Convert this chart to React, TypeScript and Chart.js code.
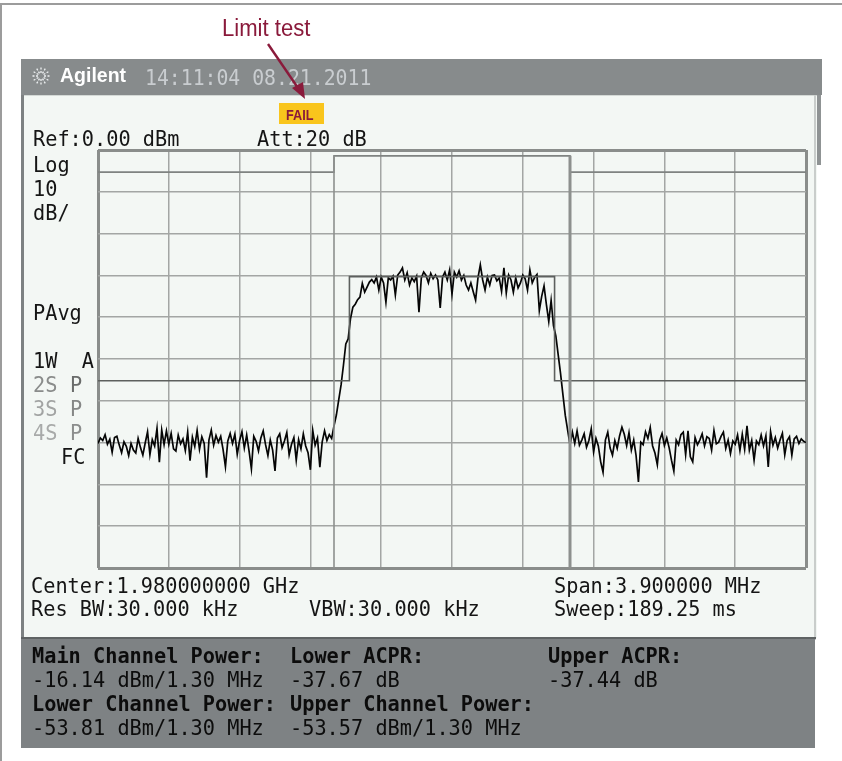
import React, { useEffect, useRef } from "react";
import { Chart, registerables } from "chart.js";
Chart.register(...registerables);

// Sweep definition (offset from 1.980 GHz centre, MHz)
const SPAN_START_MHZ = -1.95;
const SPAN_STOP_MHZ = 1.95;
const SWEEP_STEP_MHZ = 0.013;

const xGridMHz = [-1.95, -1.56, -1.17, -0.78, -0.39, 0, 0.39, 0.78, 1.17, 1.56, 1.95];
const yGridDbm = [0, -10, -20, -30, -40, -50, -60, -70, -80, -90, -100];

const traceDbm = [
  -70.2, -68.9, -69.5, -68.1, -70.4, -69.2, -72.3, -68.8, -68.5, -70.6,
  -72.4, -69.8, -70.9, -73.1, -70.2, -71.8, -72.5, -69.0, -71.2, -73.0,
  -70.1, -67.4, -72.9, -69.3, -70.8, -66.6, -74.7, -67.0, -70.5, -67.2,
  -70.4, -67.8, -71.5, -72.0, -68.2, -70.3, -69.1, -71.9, -67.5, -74.3,
  -68.7, -70.9, -67.1, -71.6, -68.6, -70.2, -78.4, -69.4, -67.0, -70.6,
  -68.3, -69.9, -68.5, -71.7, -75.8, -69.6, -67.8, -70.2, -68.0, -72.8,
  -69.5, -67.4, -71.3, -68.2, -72.0, -76.3, -68.5, -69.7, -72.0, -68.9,
  -67.2, -70.5, -73.1, -69.4, -71.8, -76.8, -68.9, -67.9, -71.2, -69.6,
  -67.6, -72.9, -70.4, -68.8, -74.2, -69.3, -71.5, -67.9, -70.8, -72.4,
  -76.5, -67.1, -70.6, -68.9, -75.9, -69.8, -67.2, -69.5, -68.1, -69.0,
  -66.0, -63.4, -59.8, -56.2, -51.5, -46.4, -45.2, -40.3, -37.6, -36.9,
  -35.8, -35.2, -31.9, -34.0, -32.8, -31.6, -31.0, -31.8, -30.4, -33.5,
  -30.4, -31.8, -36.4, -30.6, -31.1, -30.2, -34.7, -29.9, -29.2, -28.2,
  -31.1, -29.4, -32.3, -30.6, -31.5, -30.2, -38.8, -30.6, -29.2, -30.0,
  -31.8, -29.5, -30.8, -29.9, -31.1, -37.8, -30.4, -29.2, -31.1, -28.7,
  -34.5, -29.2, -30.4, -28.9, -31.1, -30.0, -32.3, -33.5, -31.8, -33.9,
  -35.9, -30.6, -27.5, -31.1, -33.5, -30.4, -32.3, -30.0, -29.9, -31.3,
  -30.6, -33.8, -28.2, -34.2, -29.9, -31.1, -34.0, -30.6, -33.0, -31.8,
  -29.9, -30.8, -33.5, -28.7, -31.8, -30.5, -29.8, -38.4, -35.0, -32.5,
  -37.0, -41.0, -36.0, -42.0, -44.5, -49.0, -53.5, -58.5, -63.5, -67.0,
  -70.5, -67.5, -70.2, -67.2, -70.6, -69.4, -67.9, -71.1, -69.5, -66.7,
  -72.2, -69.0, -70.8, -74.6, -77.1, -69.4, -67.5, -71.3, -73.0, -69.5,
  -71.4, -68.4, -66.3, -68.0, -70.7, -67.6, -71.8, -69.4, -73.1, -79.4,
  -69.9, -70.5, -67.4, -69.0, -66.4, -70.8, -72.5, -75.3, -69.4, -67.8,
  -70.7, -68.9, -71.2, -74.2, -76.8, -69.4, -70.5, -68.1, -67.5, -72.9,
  -67.2, -73.4, -74.6, -68.8, -70.5, -69.4, -67.9, -70.8, -68.6, -69.0,
  -71.8, -67.1, -70.3, -69.9, -68.5, -67.5, -71.4, -69.4, -72.6, -69.6,
  -70.4, -68.2, -71.9, -68.0, -71.6, -66.0, -71.8, -69.5, -74.2, -69.6,
  -70.5, -68.2, -70.8, -68.4, -75.8, -67.4, -70.6, -68.8, -71.3, -69.4,
  -67.8, -72.9, -69.5, -68.6, -73.0, -69.1, -68.5, -70.2, -69.1, -69.7,
  -70.0,
];

// Limit lines
const upperLimitX = [-1.95, -0.65, -0.65, 0.65, 0.65, 1.95];
const upperLimitY = [-5.3, -5.3, -1.4, -1.4, -5.3, -5.3];
const lowerLimitX = [-1.95, -0.565, -0.565, 0.565, 0.565, 1.95];
const lowerLimitY = [-55.2, -55.2, -30.3, -30.3, -55.2, -55.2];
// Main channel edges (1.30 MHz integration bandwidth)
const channelEdgesMHz = [-0.65, 0.65];
const channelEdgeTopDbm = -1.4;

const MONO = "'DejaVu Sans Mono', monospace";
const SANS = "'Liberation Sans', Arial, sans-serif";

type TProps = {
  x: number;
  base: number;
  size?: number;
  color?: string;
  weight?: number;
  family?: string;
  sx?: number;
  children: React.ReactNode;
};
function T({ x, base, size = 21, color = "#151515", weight = 400, family = MONO, sx = 0.965, children }: TProps) {
  return (
    <div
      style={{
        position: "absolute",
        left: x,
        top: base - size * 0.846,
        fontFamily: family,
        fontSize: size,
        lineHeight: size + "px",
        height: size,
        color,
        fontWeight: weight,
        whiteSpace: "pre",
        transform: sx !== 1 ? `scaleX(${sx})` : undefined,
        transformOrigin: "0 0",
      }}
    >
      {children}
    </div>
  );
}

function Box({ l, t, w, h, bg, extra }: { l: number; t: number; w: number; h: number; bg: string; extra?: React.CSSProperties }) {
  return <div style={{ position: "absolute", left: l, top: t, width: w, height: h, background: bg, ...extra }} />;
}

export default function App() {
  const ref = useRef<HTMLCanvasElement | null>(null);

  useEffect(() => {
    if (!ref.current) return;
    const trace = traceDbm.map((v, i) => ({ x: SPAN_START_MHZ + i * SWEEP_STEP_MHZ, y: v }));
    const upper = upperLimitX.map((x, i) => ({ x, y: upperLimitY[i] }));
    const lower = lowerLimitX.map((x, i) => ({ x, y: lowerLimitY[i] }));
    const edgeL = [
      { x: channelEdgesMHz[0], y: channelEdgeTopDbm },
      { x: channelEdgesMHz[0], y: yGridDbm[yGridDbm.length - 1] },
    ];
    const edgeR = [
      { x: channelEdgesMHz[1], y: channelEdgeTopDbm },
      { x: channelEdgesMHz[1], y: yGridDbm[yGridDbm.length - 1] },
    ];
    const common = { pointRadius: 0, fill: false, tension: 0 };
    const chart = new Chart(ref.current, {
      type: "line",
      data: {
        datasets: [
          { data: edgeL, borderColor: "#8d908e", borderWidth: 1.6, ...common },
          { data: edgeR, borderColor: "#8d908e", borderWidth: 3, ...common },
          { data: upper, borderColor: "#7f8381", borderWidth: 1.6, ...common },
          { data: lower, borderColor: "#5d605e", borderWidth: 1.6, ...common },
          { data: trace, borderColor: "#050505", borderWidth: 1.7, ...common },
        ],
      },
      options: {
        responsive: false,
        animation: false,
        events: [],
        layout: { padding: { left: 98, top: 150, right: 36, bottom: 193 } },
        plugins: { legend: { display: false }, tooltip: { enabled: false }, title: { display: false } },
        scales: {
          x: {
            type: "linear",
            min: SPAN_START_MHZ,
            max: SPAN_STOP_MHZ,
            afterBuildTicks: (s: any) => {
              s.ticks = xGridMHz.map((v) => ({ value: v }));
            },
            ticks: { display: false },
            border: { display: false },
            grid: {
              drawTicks: false,
              color: (c: any) => (c.index === 0 || c.index === xGridMHz.length - 1 ? "#8a8d8b" : "#a3a6a4"),
              lineWidth: (c: any) => (c.index === 0 || c.index === xGridMHz.length - 1 ? 3 : 1.5),
            },
          },
          y: {
            type: "linear",
            min: yGridDbm[yGridDbm.length - 1],
            max: yGridDbm[0],
            afterBuildTicks: (s: any) => {
              s.ticks = yGridDbm.slice().reverse().map((v) => ({ value: v }));
            },
            ticks: { display: false },
            border: { display: false },
            grid: {
              drawTicks: false,
              color: (c: any) => (c.index === 0 || c.index === yGridDbm.length - 1 ? "#8a8d8b" : "#a3a6a4"),
              lineWidth: (c: any) => (c.index === 0 || c.index === yGridDbm.length - 1 ? 3 : 1.5),
            },
          },
        },
      },
    } as any);
    return () => chart.destroy();
  }, []);

  const rays = Array.from({ length: 12 }, (_, k) => (k * Math.PI) / 6);

  return (
    <div style={{ position: "fixed", left: 0, top: 0, width: 842, height: 761, background: "#ffffff", overflow: "hidden" }}>
      {/* outer frame */}
      <Box l={0} t={3} w={842} h={2} bg="#9c9c9c" />
      <Box l={0} t={3} w={2} h={758} bg="#9c9c9c" />
      {/* header band */}
      <Box l={21} t={59} w={801} h={36} bg="#878b8c" />
      <Box l={817} t={95} w={4} h={70} bg="#8f9394" />
      {/* light screen panel */}
      <Box l={21} t={95} w={796} h={543} bg="#f3f7f4" extra={{ borderTop: "1px solid #d4d9d6", boxSizing: "border-box" }} />
      <Box l={21} t={95} w={3} h={545} bg="#7d8182" />
      <Box l={814} t={95} w={2} h={545} bg="#c9cdcb" />
      {/* dark bottom panel */}
      <Box l={21} t={637} w={795} h={2} bg="#5f6364" />
      <Box l={21} t={639} w={794} h={109} bg="#7e8284" />

      <canvas ref={ref} width={842} height={761} style={{ position: "absolute", left: 0, top: 0, width: 842, height: 761 }} />

      {/* header */}
      <svg style={{ position: "absolute", left: 0, top: 0 }} width={842} height={130}>
        {rays.map((a, k) => (
          <line
            key={k}
            x1={41 + Math.cos(a) * 3}
            y1={76 + Math.sin(a) * 3}
            x2={41 + Math.cos(a) * 10}
            y2={76 + Math.sin(a) * 10}
            stroke="#eef1f2"
            strokeWidth={1.3}
            strokeDasharray="2 1.5"
          />
        ))}
      </svg>
      <T x={60} base={82} size={19.5} family={SANS} weight={700} color="#ffffff" sx={1}>Agilent</T>
      <T x={145} base={85} size={20.5} color="#c9cdd0" sx={0.965}>14:11:04 08.21.2011</T>

      {/* annotation */}
      <T x={222} base={37} size={23.5} family={SANS} color="#8a1a3b" sx={0.94}>Limit test</T>
      <svg style={{ position: "absolute", left: 0, top: 0 }} width={842} height={130}>
        <line x1={268} y1={44} x2={298} y2={88} stroke="#8a1a3b" strokeWidth={2.4} />
        <polygon points="305,99 292,88 303,82" fill="#8a1a3b" />
      </svg>
      <div
        style={{
          position: "absolute",
          left: 279,
          top: 103,
          width: 45,
          height: 21,
          background: "#f9c51c",
        }}
      />
      <T x={286} base={120} size={15.5} family={SANS} weight={700} color="#8a1a3b" sx={0.82}>FAIL</T>

      {/* screen annotations */}
      <T x={33} base={147}>Ref:0.00 dBm</T>
      <T x={257} base={147}>Att:20 dB</T>
      <T x={33} base={173}>Log</T>
      <T x={33} base={197}>10</T>
      <T x={33} base={221}>dB/</T>
      <T x={33} base={321}>PAvg</T>
      <T x={33} base={369}>1W  A</T>
      <T x={33} base={393} color="#8a8c8b">2S</T>
      <T x={70} base={393} color="#6a6c6b">P</T>
      <T x={33} base={417} color="#a2a4a3">3S</T>
      <T x={70} base={417} color="#858786">P</T>
      <T x={33} base={441} color="#a8aaa9">4S</T>
      <T x={70} base={441} color="#8c8e8d">P</T>
      <T x={61} base={465}>FC</T>

      <T x={31} base={594}>Center:1.980000000 GHz</T>
      <T x={554} base={594}>Span:3.900000 MHz</T>
      <T x={31} base={617}>Res BW:30.000 kHz</T>
      <T x={309} base={617}>VBW:30.000 kHz</T>
      <T x={554} base={617}>Sweep:189.25 ms</T>

      {/* measurement results */}
      <T x={32} base={664} weight={700} color="#0c0c0c">Main Channel Power:</T>
      <T x={290} base={664} weight={700} color="#0c0c0c">Lower ACPR:</T>
      <T x={548} base={664} weight={700} color="#0c0c0c">Upper ACPR:</T>
      <T x={32} base={688} color="#0c0c0c">-16.14 dBm/1.30 MHz</T>
      <T x={290} base={688} color="#0c0c0c">-37.67 dB</T>
      <T x={548} base={688} color="#0c0c0c">-37.44 dB</T>
      <T x={32} base={712} weight={700} color="#0c0c0c">Lower Channel Power:</T>
      <T x={290} base={712} weight={700} color="#0c0c0c">Upper Channel Power:</T>
      <T x={32} base={736} color="#0c0c0c">-53.81 dBm/1.30 MHz</T>
      <T x={290} base={736} color="#0c0c0c">-53.57 dBm/1.30 MHz</T>
    </div>
  );
}
